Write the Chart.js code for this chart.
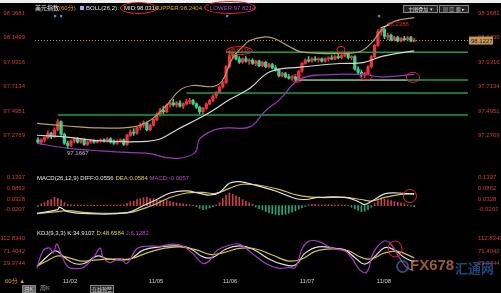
<!DOCTYPE html>
<html>
<head>
<meta charset="utf-8">
<script src="https://cdn.jsdelivr.net/npm/chart.js@4.4.0/dist/chart.umd.min.js"></script>
<style>
  body { margin:0; background:#000; width:501px; height:293px; overflow:hidden; position:relative; font-family:"Liberation Sans","Noto Sans CJK SC",sans-serif; }
  canvas { position:absolute; left:0; }
  .t { position:absolute; font-size:6px; line-height:7px; white-space:nowrap; }
  .ring { position:absolute; border:1px solid #e8262a; border-radius:50%; }
  .btn { position:absolute; background:#222; border:1px solid #888; color:#ddd; font-size:5px; line-height:6px; text-align:center; }
</style>
</head>
<body>
<div style="position:absolute;left:0;top:0;width:501px;height:3px;background:#eee"></div>

<canvas id="main" width="501" height="176" style="top:0"></canvas>
<canvas id="macd" width="501" height="62" style="top:168px"></canvas>
<canvas id="kdj" width="501" height="62" style="top:228px"></canvas>

<!-- header of the price panel -->
<div class="t" style="left:35px;top:5px;color:#e6e6e6">美元指数<span style="color:#e0a030">(60分)</span></div>
<div style="position:absolute;left:80px;top:6px;width:4px;height:4px;background:#b9a0e0"></div>
<div class="t" style="left:86px;top:5px;color:#e6e6e6">BOLL(26,2)</div>
<div class="t" style="left:124px;top:5px;color:#e6e6e6">MID:98.0316</div>
<div class="ring" style="left:120px;top:2px;width:35px;height:10px"></div>
<div class="t" style="left:158px;top:5px;color:#e0a030">UPPER:98.2404</div>
<div class="t" style="left:210px;top:5px;color:#b048d0">LOWER:97.8214</div>
<div class="ring" style="left:204px;top:1px;width:50px;height:11px"></div>
<div class="btn" style="left:403px;top:5px;width:33px;height:6px">主图叠加 ▾</div>
<div class="btn" style="left:439px;top:5px;width:28px;height:6px">▤ ▥ ▦ ▸</div>

<!-- indicator headers -->
<div class="t" style="left:37px;top:175px;color:#e6e6e6">MACD(26,12,9) DIFF:0.0556 <span style="color:#d8d040">DEA:0.0584</span> <span style="color:#c040d0">MACD:-0.0057</span></div>
<div class="t" style="left:37px;top:230px;color:#e6e6e6">KDJ(9,3,3) K:34.9107 <span style="color:#d8d040">D:48.6584</span> <span style="color:#c040d0">J:6.1282</span></div>

<!-- bottom bar -->
<div class="t" style="left:5px;top:278px;color:#e0a030">60分 ▲</div>
<div class="btn" style="left:22px;top:285px;width:12px;height:6px;background:#666">日K</div>
<div class="t" style="left:40px;top:285px;color:#aaa">周K</div>
<div class="btn" style="left:90px;top:285px;width:22px;height:6px">在线预警</div>

<!-- watermark -->
<div style="position:absolute;left:396px;top:260px;width:9px;height:9px;border:2px solid #3f6fa8;border-radius:50%;opacity:0.7"></div>
<div style="position:absolute;left:410px;top:256px;font:bold 15px 'Liberation Sans';color:#d8824a;opacity:0.7">FX678</div>
<div style="position:absolute;left:455px;top:258px;font:bold 13px 'Noto Sans CJK SC';color:#2f63b0;opacity:0.7">汇通网</div>

<script>
// hourly candles (60 min), index 0 = first bar on the left
const opens = [97.24,97.22,97.24,97.26,97.30,97.27,97.33,97.40,97.29,97.21,
  97.19,97.23,97.25,97.22,97.24,97.20,97.22,97.23,97.22,97.23,
  97.24,97.23,97.25,97.22,97.21,97.23,97.24,97.20,97.28,97.31,
  97.30,97.35,97.37,97.39,97.33,97.37,97.42,97.47,97.50,97.49,
  97.55,97.57,97.55,97.57,97.54,97.56,97.58,97.59,97.56,97.53,
  97.49,97.52,97.56,97.59,97.63,97.66,97.71,97.75,97.89,97.99,
  98.00,97.96,97.93,97.96,97.94,97.95,97.92,97.94,97.90,97.93,
  97.89,97.91,97.88,97.86,97.81,97.83,97.80,97.79,97.80,97.78,
  97.85,97.92,97.95,97.94,97.96,97.95,97.96,97.94,97.96,97.97,
  97.96,97.98,97.97,97.99,98.00,97.97,97.98,97.87,97.84,97.82,
  97.83,97.89,97.98,98.08,98.20,98.22,98.16,98.17,98.13,98.15,
  98.12,98.14,98.13,98.15,98.115];
const highs = [97.26,97.25,97.27,97.32,97.31,97.35,97.42,97.41,97.30,97.23,
  97.24,97.26,97.26,97.25,97.25,97.23,97.24,97.24,97.24,97.25,
  97.25,97.26,97.26,97.24,97.24,97.25,97.25,97.29,97.33,97.34,
  97.36,97.39,97.41,97.40,97.38,97.43,97.48,97.52,97.54,97.56,
  97.59,97.60,97.58,97.59,97.57,97.60,97.61,97.60,97.57,97.54,
  97.53,97.57,97.60,97.64,97.67,97.72,97.76,97.90,98.03,98.02,
  98.01,97.98,97.97,97.98,97.96,97.96,97.95,97.95,97.94,97.94,
  97.92,97.92,97.90,97.87,97.84,97.84,97.82,97.81,97.81,97.86,
  97.93,97.96,97.98,97.97,97.98,97.97,97.97,97.97,97.98,97.99,
  97.99,98.00,98.00,98.02,98.01,97.99,97.99,97.89,97.86,97.84,
  97.90,97.99,98.09,98.22,98.2386,98.23,98.19,98.18,98.16,98.16,
  98.15,98.16,98.16,98.16,98.14];
const lows = [97.21,97.20,97.22,97.25,97.25,97.26,97.32,97.28,97.20,97.1667,
  97.18,97.21,97.21,97.21,97.19,97.19,97.21,97.21,97.21,97.22,
  97.22,97.22,97.21,97.20,97.20,97.22,97.19,97.19,97.27,97.28,
  97.29,97.33,97.35,97.32,97.32,97.36,97.41,97.45,97.47,97.48,
  97.53,97.54,97.53,97.53,97.52,97.55,97.56,97.55,97.52,97.47,
  97.47,97.51,97.55,97.58,97.61,97.65,97.70,97.74,97.88,97.96,
  97.95,97.92,97.92,97.93,97.91,97.91,97.90,97.89,97.89,97.88,
  97.88,97.87,97.85,97.80,97.80,97.79,97.78,97.77,97.76,97.77,
  97.84,97.91,97.93,97.93,97.94,97.93,97.93,97.93,97.94,97.95,
  97.95,97.96,97.96,97.98,97.96,97.95,97.86,97.82,97.80,97.79,
  97.82,97.88,97.97,98.07,98.17,98.14,98.13,98.12,98.12,98.11,
  98.11,98.12,98.12,98.11,98.11];
const closes = [97.22,97.24,97.26,97.30,97.27,97.33,97.40,97.29,97.21,97.19,
  97.23,97.25,97.22,97.24,97.20,97.22,97.23,97.22,97.23,97.24,
  97.23,97.25,97.22,97.21,97.23,97.24,97.20,97.28,97.31,97.30,
  97.35,97.37,97.39,97.33,97.37,97.42,97.47,97.50,97.49,97.55,
  97.57,97.55,97.57,97.54,97.56,97.58,97.59,97.56,97.53,97.49,
  97.52,97.56,97.59,97.63,97.66,97.71,97.75,97.89,97.99,98.00,
  97.96,97.93,97.96,97.94,97.95,97.92,97.94,97.90,97.93,97.89,
  97.91,97.88,97.86,97.81,97.83,97.80,97.79,97.80,97.78,97.85,
  97.92,97.95,97.94,97.96,97.95,97.96,97.94,97.96,97.97,97.96,
  97.98,97.97,97.99,98.00,97.97,97.98,97.87,97.84,97.82,97.83,
  97.89,97.98,98.08,98.20,98.22,98.16,98.17,98.13,98.15,98.12,
  98.14,98.13,98.15,98.12,98.1227];

// Bollinger bands, [bar index, price]
const bollUpper = [[-0.3,97.387],[8.8,97.363],[18.8,97.346],[28.8,97.355],[33.9,97.412],[39.1,97.551],
  [43,97.682],[47,97.723],[53,97.714],[55.8,97.763],[59,97.968],[62,98.066],[64.2,98.123],[68.8,98.156],
  [71.8,98.139],[76.4,98.066],[79.4,98.025],[85.5,98.009],[91.5,98.009],[97.6,98.025],[101.2,98.107],
  [104.5,98.229],[108.2,98.295],[114,98.327]];
const bollMid = [[-0.3,97.281],[8.8,97.265],[18.8,97.232],[30.9,97.224],[37,97.248],[42.1,97.330],
  [51.2,97.469],[58.2,97.600],[64.2,97.698],[70.3,97.845],[79.4,97.886],[91.5,97.919],[98.5,97.927],
  [104.5,97.984],[114,98.0316]];
const bollLower = [[-0.3,97.208],[8.8,97.167],[18.8,97.142],[28.8,97.126],[33.9,97.118],[38.5,97.085],
  [43,97.077],[47.6,97.126],[49,97.248],[53.6,97.330],[57.3,97.346],[64.2,97.355],[68.8,97.494],
  [73.3,97.600],[79.4,97.780],[88.5,97.820],[99,97.820],[103.6,97.800],[114,97.8214]];

// hand drawn support / resistance lines, [from index, to index, price]
const greenLines = [[57,130.3,98.019],[45,130.3,97.657],[6,130.3,97.461],[78,130.3,97.771]];
const grayLines = [[78,112,97.771]];
const lastPrice = 98.1227;

// MACD
const macdHist = [-0.004,0.008,0.015,0.025,0.030,0.040,0.036,0.028,0.015,0.006,
  0.004,0.003,0.004,0.003,0.002,0.003,0.002,0.003,0.002,0.002,0.003,0.002,0.003,0.002,0.002,0.003,0.004,
  0.010,0.018,0.022,0.030,0.035,0.038,0.040,0.036,0.034,0.030,
  0.026,0.022,0.024,0.020,0.016,0.014,0.010,0.008,0.006,0.004,0.001,
  -0.006,-0.014,-0.020,-0.018,-0.012,-0.006,0.004,0.015,0.035,0.050,0.061,0.055,0.048,0.040,0.030,0.022,0.014,0.006,
  -0.008,-0.015,-0.022,-0.030,-0.036,-0.040,-0.044,-0.046,-0.045,-0.042,-0.038,-0.032,-0.026,-0.018,-0.010,-0.004,
  0.004,0.006,0.005,0.004,0.003,0.004,0.005,0.004,0.003,0.004,0.003,0.002,0.001,
  -0.008,-0.016,-0.024,-0.030,-0.028,-0.020,-0.008,
  0.010,0.024,0.033,0.032,0.028,0.024,0.020,0.016,0.012,0.008,0.004,-0.003,-0.006];
const diffLine = [[-0.3,-0.038],[6,-0.020],[6.5,-0.008],[9,-0.030],[15,-0.040],[27,-0.035],[32,0.000],
  [36,0.030],[40,0.062],[45,0.072],[49,0.060],[52,0.052],[55,0.065],[58,0.110],[61,0.118],[66,0.100],
  [72,0.072],[78,0.035],[81,0.030],[85,0.040],[93,0.040],[97,0.020],[99,0.005],[102,0.030],[105,0.058],
  [109,0.062],[114,0.0556]];
const deaLine = [[-0.3,-0.040],[6,-0.030],[9,-0.025],[15,-0.035],[27,-0.036],[32,-0.015],[36,0.010],
  [40,0.040],[45,0.062],[50,0.065],[54,0.060],[58,0.085],[62,0.105],[67,0.100],[73,0.080],[79,0.050],
  [85,0.040],[93,0.040],[98,0.030],[101,0.022],[105,0.040],[110,0.055],[114,0.0584]];

// KDJ
const kLine = [[-0.3,20],[3,55],[5.5,72],[8,50],[11,30],[14,30],[18,55],[21,45],[25,42],[28,45],[32,75],
  [37,85],[42,88],[46,80],[50,52],[53,50],[57,78],[61,88],[65,78],[70,45],[74,28],[78,25],[81,65],[85,85],
  [90,80],[93,75],[96,50],[99,28],[102,52],[105,82],[108,75],[111,50],[114,34.9]];
const dLine = [[-0.3,22],[3,40],[6,55],[9,50],[13,38],[18,42],[24,45],[28,45],[33,65],[38,80],[43,85],
  [48,75],[52,60],[56,65],[61,80],[66,78],[71,58],[76,38],[80,45],[84,70],[89,78],[94,72],[98,50],
  [101,45],[105,65],[109,70],[114,48.66]];
const jLine = [[-0.3,14],[1.5,71],[3.6,81],[4.6,65],[5.7,94],[7.2,55],[8.7,24],[10.2,14],[13.7,17],
  [16.8,49],[18.8,81],[19.8,49],[21.8,33],[24.9,46],[26.9,30],[29.9,78],[32.9,87],[36.9,87],[41,94],
  [44,87],[47,62],[50,30],[52,40],[54,71],[57,87],[61,94],[65,62],[69,30],[73,14],[76,17],[78,17],
  [80,78],[82,103],[85,103],[89,81],[93,71],[95,49],[97.6,8],[99.6,1],[101.6,65],[104.6,103],
  [106.7,97],[109.7,46],[111.7,17],[113.7,6]];

// axes
const dayTicks = [9.7, 35.8, 58.2, 81.5, 104.8];
const dayLabels = ['11/02', '11/05', '11/06', '11/07', '11/08'];
const priceTicks = [98.3681, 98.1499, 97.9316, 97.7134, 97.4951, 97.2769];
const macdTicks = [0.1397, 0.0862, 0.0328, -0.0207];
const kdjTicks = [112.8340, 71.4042, 29.9744];
const eventDots = [5.2, 7, 57.3, 103.3];

Chart.defaults.font.family = 'Liberation Sans';
const UP = '#e8353c', DOWN = '#3ccf8e';
const pts = arr => arr.map(p => ({ x: p[0], y: p[1] }));

function xAxis(show) {
  return {
    type: 'linear', min: -0.9, max: 130.3, offset: false, display: show,
    grid: { display: false, drawTicks: false }, border: { display: false },
    afterBuildTicks: s => { s.ticks = dayTicks.map(v => ({ value: v })); },
    afterFit: s => { s.height = 13; },
    ticks: { color: '#cfcfcf', font: { size: 6 }, padding: 1, autoSkip: false, maxRotation: 0,
      callback: v => dayLabels[dayTicks.indexOf(v)] }
  };
}
function yAxis(pos, lo, hi, vals, digits) {
  return {
    position: pos, min: lo, max: hi,
    grid: { display: false }, border: { display: false },
    afterBuildTicks: s => { s.ticks = vals.map(v => ({ value: v })); },
    afterFit: s => { s.width = pos === 'left' ? 35 : 33; },
    ticks: { color: '#d23c3c', font: { size: 6 }, padding: 2, autoSkip: false, callback: v => v.toFixed(digits) }
  };
}
function line(data, color, width) {
  return { type: 'line', data: data, borderColor: color, borderWidth: width || 1, pointRadius: 0,
    tension: 0.4, fill: false, order: 1 };
}

// red rings, labels and the last price box
const marks = {
  id: 'marks',
  afterDatasetsDraw(chart, args, o) {
    const c = chart.ctx, sx = chart.scales.x, sy = chart.scales.y;
    c.save();
    (o.links || []).forEach(l => {
      c.beginPath();
      c.moveTo(sx.getPixelForValue(l[0]), sy.getPixelForValue(l[1]));
      c.lineTo(sx.getPixelForValue(l[2]), sy.getPixelForValue(l[3]));
      c.strokeStyle = '#ddd'; c.lineWidth = 1; c.stroke();
    });
    (o.rings || []).forEach(r => {
      c.beginPath();
      c.ellipse(sx.getPixelForValue(r[0]), sy.getPixelForValue(r[1]), r[2], r[3], 0, 0, Math.PI * 2);
      c.strokeStyle = '#e8262a'; c.lineWidth = 1; c.stroke();
    });
    (o.texts || []).forEach(t => {
      c.font = '6px "Liberation Sans"'; c.fillStyle = t[3]; c.textAlign = t[4] || 'left'; c.textBaseline = 'middle';
      c.fillText(t[2], sx.getPixelForValue(t[0]), sy.getPixelForValue(t[1]));
    });
    if (o.box) {
      const y = sy.getPixelForValue(o.box), x = chart.chartArea.right + 1;
      c.fillStyle = '#c49a5c'; c.fillRect(x, y - 4, 24, 8);
      c.font = '6px "Liberation Sans"'; c.fillStyle = '#2a1a10'; c.textAlign = 'left'; c.textBaseline = 'middle';
      c.fillText(o.box.toFixed(4), x + 2, y + 0.5);
    }
    c.restore();
  }
};

const base = {
  responsive: false, animation: false, events: [],
  plugins: { legend: { display: false }, tooltip: { enabled: false } }
};
const idx = closes.map((c, i) => i);
const candleColor = ctx => closes[ctx.dataIndex] >= opens[ctx.dataIndex] ? UP : DOWN;

const mainSets = [
  { type: 'bar', data: idx.map(i => ({ x: i, y: [lows[i], highs[i]] })), backgroundColor: candleColor,
    barThickness: 1, grouped: false, order: 4 },
  { type: 'bar', data: idx.map(i => ({ x: i, y: [opens[i], closes[i]] })), backgroundColor: candleColor,
    barThickness: 2.6, minBarLength: 1, grouped: false, order: 3 },
  line(pts(bollUpper), '#b5a45e', 1.2),
  line(pts(bollMid), '#d6d6d6', 1.2),
  line(pts(bollLower), '#9b36b6', 1.2),
  { type: 'line', data: [{ x: -0.9, y: lastPrice }, { x: 130.3, y: lastPrice }], borderColor: '#c59a66',
    borderWidth: 1, borderDash: [1, 2], pointRadius: 0, order: 2 },
  { type: 'scatter', data: eventDots.map(x => ({ x: x, y: 98.34 })), pointStyle: 'rect', pointRadius: 1.6,
    backgroundColor: '#3d8fe0', borderWidth: 0, order: 0 }
];
greenLines.forEach(g => mainSets.push({ type: 'line', data: [{ x: g[0], y: g[2] }, { x: g[1], y: g[2] }],
  borderColor: '#1f9e42', borderWidth: 1.5, pointRadius: 0, order: 2 }));
grayLines.forEach(g => mainSets.push({ type: 'line', data: [{ x: g[0], y: g[2] }, { x: g[1], y: g[2] }],
  borderColor: '#b9b9b9', borderWidth: 1, pointRadius: 0, order: 1 }));

new Chart(document.getElementById('main'), {
  type: 'bar',
  data: { datasets: mainSets },
  options: Object.assign({}, base, {
    layout: { padding: { top: 5, bottom: 2 } },
    scales: { x: xAxis(false), y: yAxis('left', 97.052, 98.4335, priceTicks, 4),
      y2: yAxis('right', 97.052, 98.4335, priceTicks, 4) },
    plugins: Object.assign({}, base.plugins, { marks: {
      rings: [[61, 98.033, 13, 4], [91.8, 98.041, 4, 3.5], [78.5, 97.788, 6, 4], [99.4, 97.804, 6, 3.5], [113.6, 97.796, 6.5, 5]],
      links: [[104, 98.2386, 106.5, 98.262]],
      texts: [[61, 98.033, '98.0316', '#e8262a', 'center'], [105.8, 98.268, '98.2386', '#e8262a'],
        [8.8, 97.117, '97.1667', '#a9bccc']],
      box: lastPrice } })
  }),
  plugins: [marks]
});

new Chart(document.getElementById('macd'), {
  type: 'bar',
  data: { datasets: [
    { type: 'bar', data: idx.map(i => ({ x: i, y: macdHist[i] })), barThickness: 1, grouped: false, order: 3,
      backgroundColor: ctx => macdHist[ctx.dataIndex] >= 0 ? '#c8404a' : '#25a67a' },
    line(pts(diffLine), '#e0e0e0', 1.2),
    line(pts(deaLine), '#cfc446', 1.2)
  ] },
  options: Object.assign({}, base, {
    layout: { padding: { top: 2, bottom: 0 } },
    scales: { x: xAxis(false), y: yAxis('left', -0.0563, 0.1575, macdTicks, 4),
      y2: yAxis('right', -0.0563, 0.1575, macdTicks, 4) },
    plugins: Object.assign({}, base.plugins, { marks: { rings: [[112.7, 0.047, 6.5, 6.5]] } })
  }),
  plugins: [marks]
});

new Chart(document.getElementById('kdj'), {
  type: 'line',
  data: { datasets: [
    line(pts(jLine), '#a63cc4', 1.2),
    line(pts(dLine), '#cfc446', 1.2),
    line(pts(kLine), '#e0e0e0', 1.2)
  ] },
  options: Object.assign({}, base, {
    layout: { padding: { top: 4, bottom: 0 } },
    scales: { x: xAxis(true), y: yAxis('left', -14.64, 128.77, kdjTicks, 4),
      y2: yAxis('right', -14.64, 128.77, kdjTicks, 4) },
    plugins: Object.assign({}, base.plugins, { marks: { rings: [[108.2, 77.8, 7, 8]] } })
  }),
  plugins: [marks]
});
</script>
</body>
</html>
